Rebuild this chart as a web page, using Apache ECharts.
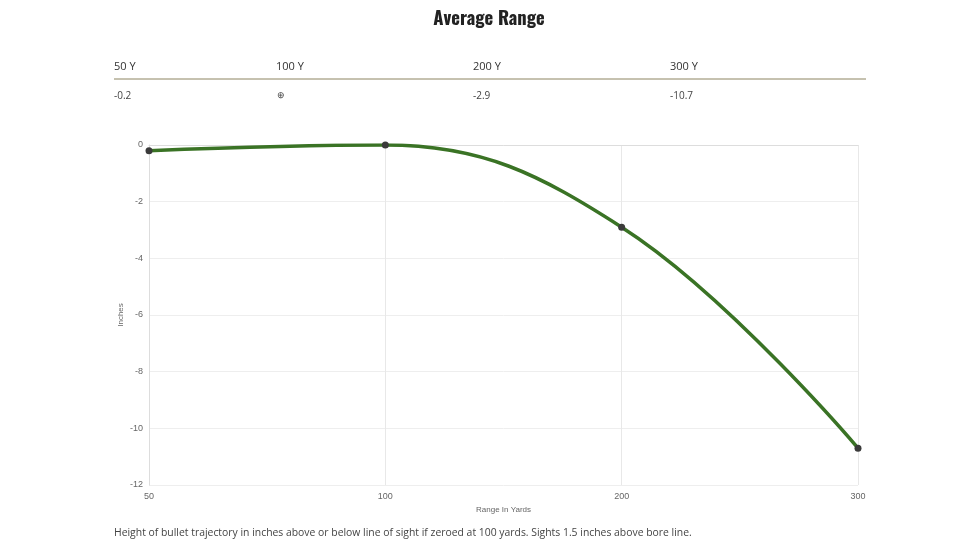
<!DOCTYPE html>
<html>
<head>
<meta charset="utf-8">
<script src="https://cdn.jsdelivr.net/npm/echarts@6/dist/echarts.min.js"></script>
<style>
html,body{margin:0;padding:0;background:#fff;}
#c{width:978px;height:550px;}
</style>
</head>
<body>
<div id="c"></div>
<script>
const ranges = ['50', '100', '200', '300'];
const drops = [-0.2, 0, -2.9, -10.7];
const tableHeaders = ['50 Y', '100 Y', '200 Y', '300 Y'];
const tableValues = ['-0.2', '\u2295', '-2.9', '-10.7'];

const chart = echarts.init(document.getElementById('c'));
const colX = [114, 276, 473, 670];
const graphics = [];
tableHeaders.forEach((h, i) => {
  graphics.push({type:'text', left: colX[i], top: 61, style:{text:h, font:'11px "Open Sans"', fill:'#333'}});
});
tableValues.forEach((v, i) => {
  graphics.push({type:'text', left: colX[i] + (i===1?1:0), top: 91, style:{text:v, font:(i===1?'9px':'10px')+' "Open Sans"', fill:'#444'}});
});
graphics.push({type:'line', shape:{x1:114, y1:79, x2:866, y2:79}, style:{stroke:'#8c8460', lineWidth:1}});
graphics.push({type:'text', left:114, top:528, style:{text:'Height of bullet trajectory in inches above or below line of sight if zeroed at 100 yards. Sights 1.5 inches above bore line.', font:'10.4px "Open Sans"', fill:'#444'}});
graphics.push({type:'text', x:121, y:315, rotation:Math.PI/2, style:{text:'Inches', font:'8px Arial, "Liberation Sans"', fill:'#666', align:'center', verticalAlign:'middle'}});

chart.setOption({
  animation:false,
  title:{text:'Average Range', left:'center', top:5, textStyle:{fontFamily:'Oswald, "Liberation Sans Narrow", "DejaVu Sans Condensed", sans-serif', fontWeight:'bold', fontSize:18.5, color:'#222'}},
  graphic: graphics,
  grid:{left:149, right:120, top:145, bottom:65},
  xAxis:{
    type:'category', data:ranges, boundaryGap:false,
    name:'Range In Yards', nameLocation:'middle', nameGap:21,
    nameTextStyle:{fontFamily:'Arial, "Liberation Sans"', fontSize:8, color:'#666'},
    axisLine:{lineStyle:{color:'#ddd'}}, axisTick:{show:false},
    axisLabel:{fontFamily:'Arial, "Liberation Sans"', fontSize:9, color:'#666', margin:7},
    splitLine:{show:true, lineStyle:{color:'#e8e8e8'}}
  },
  yAxis:{
    type:'value', min:-12, max:0, interval:2,
    axisLine:{show:true, lineStyle:{color:'#ddd'}}, axisTick:{show:false},
    axisLabel:{fontFamily:'Arial, "Liberation Sans"', fontSize:9, color:'#666', margin:6},
    splitLine:{show:true, lineStyle:{color:'#eeeeee'}}
  },
  series:[{
    type:'line', data:drops, smooth:0.4,
    symbol:'circle', symbolSize:7,
    itemStyle:{color:'#3a3a3a'},
    lineStyle:{color:'#3a7325', width:3.5}
  }]
});
</script>
</body>
</html>
